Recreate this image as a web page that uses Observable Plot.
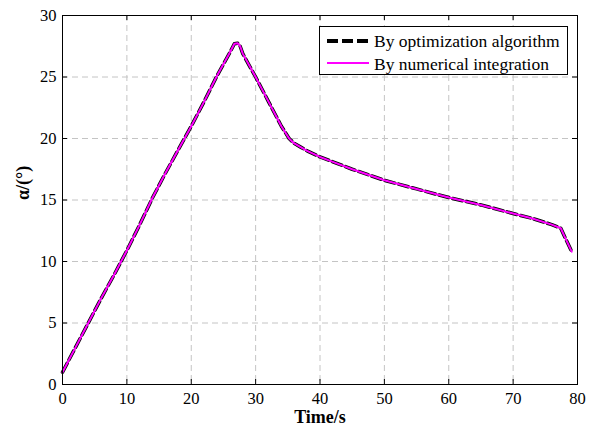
<!DOCTYPE html>
<html><head><meta charset="utf-8">
<script src="https://cdn.jsdelivr.net/npm/d3@7"></script>
<script src="https://cdn.jsdelivr.net/npm/@observablehq/plot@0.6"></script>
<style>
body{margin:0;background:#fff;}
#wrap{position:relative;width:596px;height:432px;}
#legend{position:absolute;left:319px;top:26px;width:249px;height:49px;box-sizing:border-box;border:1px solid #000;background:#fff;}
#legend svg{position:absolute;left:-1px;top:-1px;overflow:visible;}
</style></head>
<body><div id="wrap"><div id="chart"></div><div id="legend"></div></div>
<script>
const time = [0, 2, 4, 6, 8, 10, 12, 14, 16, 18, 20, 22, 24, 26, 26.7, 27.2, 27.6, 28, 30, 32, 34, 35.2, 36, 37, 38, 40, 42, 45, 50, 55, 60, 65, 70, 73, 76, 77.4, 78.2, 79.1];
const alphaOpt = [1.0, 3.0, 5.0, 7.0, 8.9, 10.9, 13.0, 15.2, 17.2, 19.1, 21.0, 23.0, 25.1, 27.0, 27.7, 27.75, 27.5, 26.9, 25.0, 23.0, 21.0, 20.0, 19.6, 19.3, 19.0, 18.5, 18.1, 17.5, 16.6, 15.9, 15.2, 14.6, 13.9, 13.5, 13.0, 12.7, 11.8, 10.8];
const alphaNum = [1.0, 3.0, 5.0, 7.0, 8.9, 10.9, 13.0, 15.2, 17.2, 19.1, 21.0, 23.0, 25.1, 27.0, 27.7, 27.75, 27.5, 26.9, 25.0, 23.0, 21.0, 20.0, 19.6, 19.3, 19.0, 18.5, 18.1, 17.5, 16.6, 15.9, 15.2, 14.6, 13.9, 13.5, 13.0, 12.7, 11.8, 10.8];
const xTicks = [0, 10, 20, 30, 40, 50, 60, 70, 80];
const yTicks = [0, 5, 10, 15, 20, 25, 30];
const seriesNames = ["By optimization algorithm", "By numerical integration"];

const W = 596, H = 432, mL = 62, mR = 19, mT = 15, mB = 48;
const xMax = 80, yMax = 30;
const tickPx = 5;
const dxData = tickPx * xMax / (W - mL - mR);
const dyData = tickPx * yMax / (H - mT - mB);
const font = "Liberation Serif, Tinos, DejaVu Serif, serif";

const optData = time.map((t, i) => ({t, a: alphaOpt[i]}));
const numData = time.map((t, i) => ({t, a: alphaNum[i]}));

const chart = Plot.plot({
  width: W, height: H,
  marginLeft: mL, marginRight: mR, marginTop: mT, marginBottom: mB,
  x: {domain: [0, xMax]},
  y: {domain: [0, yMax]},
  style: {fontFamily: font, fontSize: "16px", color: "#000", background: "#fff", overflow: "visible"},
  marks: [
    Plot.gridX(xTicks, {stroke: "#c4c4c4", strokeOpacity: 1, strokeDasharray: "6,4"}),
    Plot.gridY(yTicks, {stroke: "#c4c4c4", strokeOpacity: 1, strokeDasharray: "6,4"}),
    Plot.ruleX(xTicks, {x: d => d, y1: 0, y2: dyData, stroke: "#000"}),
    Plot.ruleX(xTicks, {x: d => d, y1: yMax - dyData, y2: yMax, stroke: "#000"}),
    Plot.ruleY(yTicks, {y: d => d, x1: 0, x2: dxData, stroke: "#000"}),
    Plot.ruleY(yTicks, {y: d => d, x1: xMax - dxData, x2: xMax, stroke: "#000"}),
    Plot.axisX(xTicks, {tickSize: 0, tickPadding: 8, label: null, fontSize: 16.5, fontFamily: font}),
    Plot.axisY(yTicks, {tickSize: 0, tickPadding: 6, label: null, fontSize: 16.5, fontFamily: font}),
    Plot.line(optData, {x: "t", y: "a", stroke: "#000", strokeWidth: 3.5, strokeDasharray: "10,4"}),
    Plot.line(numData, {x: "t", y: "a", stroke: "#ff00ff", strokeWidth: 2}),
    Plot.frame({stroke: "#000", strokeWidth: 1}),
    Plot.text(["Time/s"], {frameAnchor: "bottom", dy: 38, fontWeight: "bold", fontSize: 18, fontFamily: font}),
    Plot.text(["α/(°)"], {frameAnchor: "left", dx: -39, rotate: -90, fontWeight: "bold", fontSize: 18, fontFamily: font})
  ]
});
document.getElementById("chart").appendChild(chart);

const lg = d3.select("#legend").append("svg").attr("width", 249).attr("height", 49);
lg.append("line").attr("x1", 8).attr("x2", 50).attr("y1", 15).attr("y2", 15)
  .attr("stroke", "#000").attr("stroke-width", 4).attr("stroke-dasharray", "11,4");
lg.append("line").attr("x1", 8).attr("x2", 50).attr("y1", 37).attr("y2", 37)
  .attr("stroke", "#ff00ff").attr("stroke-width", 2);
lg.selectAll("text").data(seriesNames).join("text")
  .attr("x", 55).attr("y", (d, i) => i === 0 ? 20.5 : 43.5)
  .attr("font-family", font).attr("font-size", 17.5).attr("fill", "#000")
  .text(d => d);
</script></body></html>
